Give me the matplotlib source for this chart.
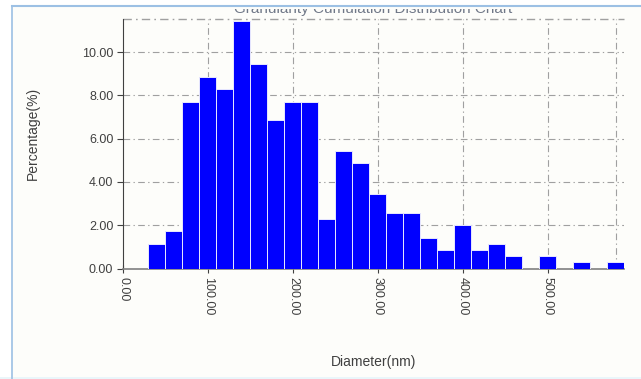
import numpy as np
import matplotlib.pyplot as plt
from matplotlib.patches import Rectangle
from matplotlib.lines import Line2D

plt.rcParams['font.family'] = ['Liberation Sans', 'DejaVu Sans']

# size classes (nm): 20 nm bins, centres from 40 to 580
bin_centres = [40, 60, 80, 100, 120, 140, 160, 180, 200, 220,
               240, 260, 280, 300, 320, 340, 360, 380, 400, 420,
               440, 460, 480, 500, 520, 540, 560, 580]
percent = [1.14, 1.71, 7.71, 8.86, 8.29, 11.43, 9.43, 6.86, 7.71, 7.71,
           2.29, 5.43, 4.86, 3.43, 2.57, 2.57, 1.43, 0.86, 2.00, 0.86,
           1.14, 0.57, 0.00, 0.57, 0.00, 0.29, 0.00, 0.29]
bin_width = 20
x_ticks = [0, 100, 200, 300, 400, 500]
y_ticks = [0, 2, 4, 6, 8, 10]

W, H = 641, 379
fig = plt.figure(figsize=(W / 100, H / 100), dpi=100, facecolor='#fdfdfa')

ax = fig.add_axes([123 / W, (H - 268.5) / H, 501 / W, 250 / H])
ax.set_facecolor('#fdfdfa')

ax.bar(bin_centres, percent, width=bin_width, color='#0000ff',
       edgecolor='#e8e8ff', linewidth=0.7, zorder=3)

ax.set_xlim(0, 590)
ax.set_ylim(0, 11.55)

dash = (0, (6, 3, 1.2, 3))
for y in y_ticks[1:]:
    ax.axhline(y, color='#a0a0a0', lw=0.8, ls=dash, zorder=1)
for x in x_ticks[1:]:
    ax.axvline(x, color='#a0a0a0', lw=0.8, ls=dash, zorder=1)
# dash-dot frame at top / right
ax.axhline(11.55, color='#a0a0a0', lw=1.0, ls=dash, zorder=1, clip_on=False)
ax.axvline(581, color='#a0a0a0', lw=0.8, ls=dash, zorder=1)

for side in ['top', 'right']:
    ax.spines[side].set_visible(False)
ax.spines['left'].set_color('#404040')
ax.spines['bottom'].set_color('#808080')
ax.spines['bottom'].set_linewidth(1.2)

ax.set_yticks(y_ticks)
ax.set_yticklabels(['%.2f' % v for v in y_ticks])
ax.set_xticks(x_ticks)
ax.set_xticklabels(['%.2f' % v for v in x_ticks], rotation=270)
ax.tick_params(axis='both', direction='out', length=4, width=0.8,
               colors='#404040', labelsize=9, pad=3)
ax.tick_params(axis='x', direction='inout', length=6)

ax.set_ylabel('Percentage(%)', fontsize=10, color='#404040')
ax.yaxis.set_label_coords(-0.166, 0.54)
ax.set_xlabel('Diameter(nm)', fontsize=10, color='#404040')
ax.xaxis.set_label_coords(0.5, -0.345)

# title, clipped by the panel border at the top
fig.text(373 / W, (H - 13) / H, 'Granularity Cumulation Distribution Chart',
         ha='center', va='baseline', fontsize=11, color='#707888', zorder=1)
fig.patches.append(Rectangle((0, (H - 8.5) / H), 1, 8.5 / H, transform=fig.transFigure,
                             facecolor='white', edgecolor='none', zorder=5))
fig.patches.append(Rectangle((12 / W, (H - 8.5) / H), 1, 2.5 / H, transform=fig.transFigure,
                             facecolor='#fdfdfa', edgecolor='none', zorder=5))
fig.patches.append(Rectangle((0, 0), 12 / W, 1, transform=fig.transFigure,
                             facecolor='white', edgecolor='none', zorder=5))
fig.patches.append(Rectangle((0, 0), 1, 2.5 / H, transform=fig.transFigure,
                             facecolor='#eaf6fa', edgecolor='none', zorder=5))
fig.lines.append(Line2D([12 / W, 1], [(H - 5.5) / H] * 2, transform=fig.transFigure,
                        color='#9cc0e4', lw=1.5, zorder=6))
fig.lines.append(Line2D([12 / W] * 2, [0, (H - 5.5) / H], transform=fig.transFigure,
                        color='#9cc0e4', lw=1.2, zorder=6))

fig.savefig('out.png', dpi=100, facecolor=fig.get_facecolor())
